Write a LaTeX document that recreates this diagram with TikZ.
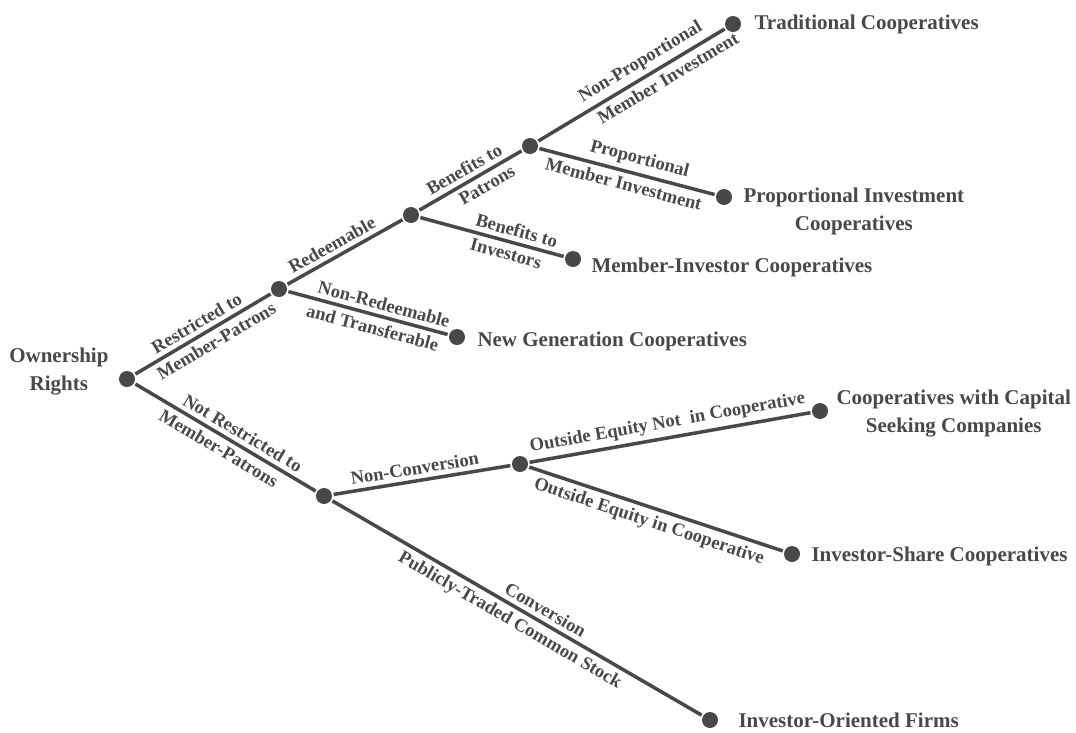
\documentclass[tikz,border=0pt]{standalone}
\usepackage{fontspec}
\setmainfont{Liberation Serif}
\usepackage{tikz}
\usetikzlibrary{positioning}
\definecolor{ink}{RGB}{72,72,72}

\begin{document}
\begin{tikzpicture}[
    x=1pt, y=-1pt,
    line width=3.5pt,
    color=ink,
    node distance=10pt,
    dot/.style={circle, fill=ink, inner sep=0pt, minimum size=16pt},
    lab/.style={sloped, font=\bfseries\fontsize{18.5}{20}\selectfont, inner xsep=1pt, inner ysep=4.5pt},
    leaf/.style={font=\bfseries\fontsize{21}{28}\selectfont, align=center, inner sep=0pt}
]
\useasboundingbox (0,0) rectangle (1076,732);

% Decision points
\node[dot] (rights) at (127,379) {};
\node[dot] (restricted) at (279,289) {};
\node[dot] (redeemable) at (411,215) {};
\node[dot] (patrons) at (530,146) {};
\node[dot] (notrestricted) at (324,496) {};
\node[dot] (nonconv) at (520,464) {};

% End points
\node[dot] (trad) at (733,24) {};
\node[dot] (propinv) at (724,197) {};
\node[dot] (meminv) at (573,259) {};
\node[dot] (newgen) at (457,337) {};
\node[dot] (capseek) at (820,411) {};
\node[dot] (invshare) at (792,554) {};
\node[dot] (iof) at (710,720) {};

% Texts
\node[leaf, left=7pt of rights, yshift=7pt] (rights_text) {Ownership\\Rights};
\node[leaf, right=of trad] (trad_text) {Traditional Cooperatives};
\node[leaf, right=8pt of propinv, yshift=-14pt] (propinv_text) {Proportional Investment\\Cooperatives};
\node[leaf, right=7pt of meminv, yshift=-8pt] (meminv_text) {Member-Investor Cooperatives};
\node[leaf, right=9pt of newgen, yshift=-4pt] (newgen_text) {New Generation Cooperatives};
\node[leaf, right=5pt of capseek, yshift=-3pt] (capseek_text) {Cooperatives with Capital\\Seeking Companies};
\node[leaf, right=8pt of invshare, yshift=-2pt] (invshare_text) {Investor-Share Cooperatives};
\node[leaf, right=17pt of iof] (iof_text) {Investor-Oriented Firms};

% Connections
\draw (rights) -- node[lab, above, pos=0.5] {Restricted to}
    node[lab, below, pos=0.55] {Member-Patrons} (restricted);
\draw (rights) -- node[lab, above, pos=0.56] {Not Restricted to}
    node[lab, below, pos=0.5] {Member-Patrons} (notrestricted);

\draw (restricted) -- node[lab, above, pos=0.44] {Redeemable} (redeemable);
\draw (restricted) -- node[lab, above, pos=0.58] {Non-Redeemable}
    node[lab, below, pos=0.55] {and Transferable} (newgen);

\draw (redeemable) -- node[lab, above, pos=0.5] {Benefits to}
    node[lab, below, pos=0.6] {Patrons} (patrons);
\draw (redeemable) -- node[lab, above, pos=0.65] {Benefits to}
    node[lab, below, pos=0.62] {Investors} (meminv);

\draw (patrons) -- node[lab, above, pos=0.59] {Non-Proportional}
    node[lab, below, pos=0.66] {Member Investment} (trad);
\draw (patrons) -- node[lab, above, pos=0.55] {Proportional}
    node[lab, below, pos=0.5] {Member Investment} (propinv);

\draw (notrestricted) -- node[lab, above, pos=0.47] {Non-Conversion} (nonconv);
\draw (notrestricted) -- node[lab, above, pos=0.56] {Conversion}
    node[lab, below, pos=0.5] {Publicly-Traded Common Stock} (iof);

\draw (nonconv) -- node[lab, above, pos=0.5] {Outside Equity Not\ \ in Cooperative} (capseek);
\draw (nonconv) -- node[lab, below, pos=0.49] {Outside Equity in Cooperative} (invshare);

\end{tikzpicture}
\end{document}
